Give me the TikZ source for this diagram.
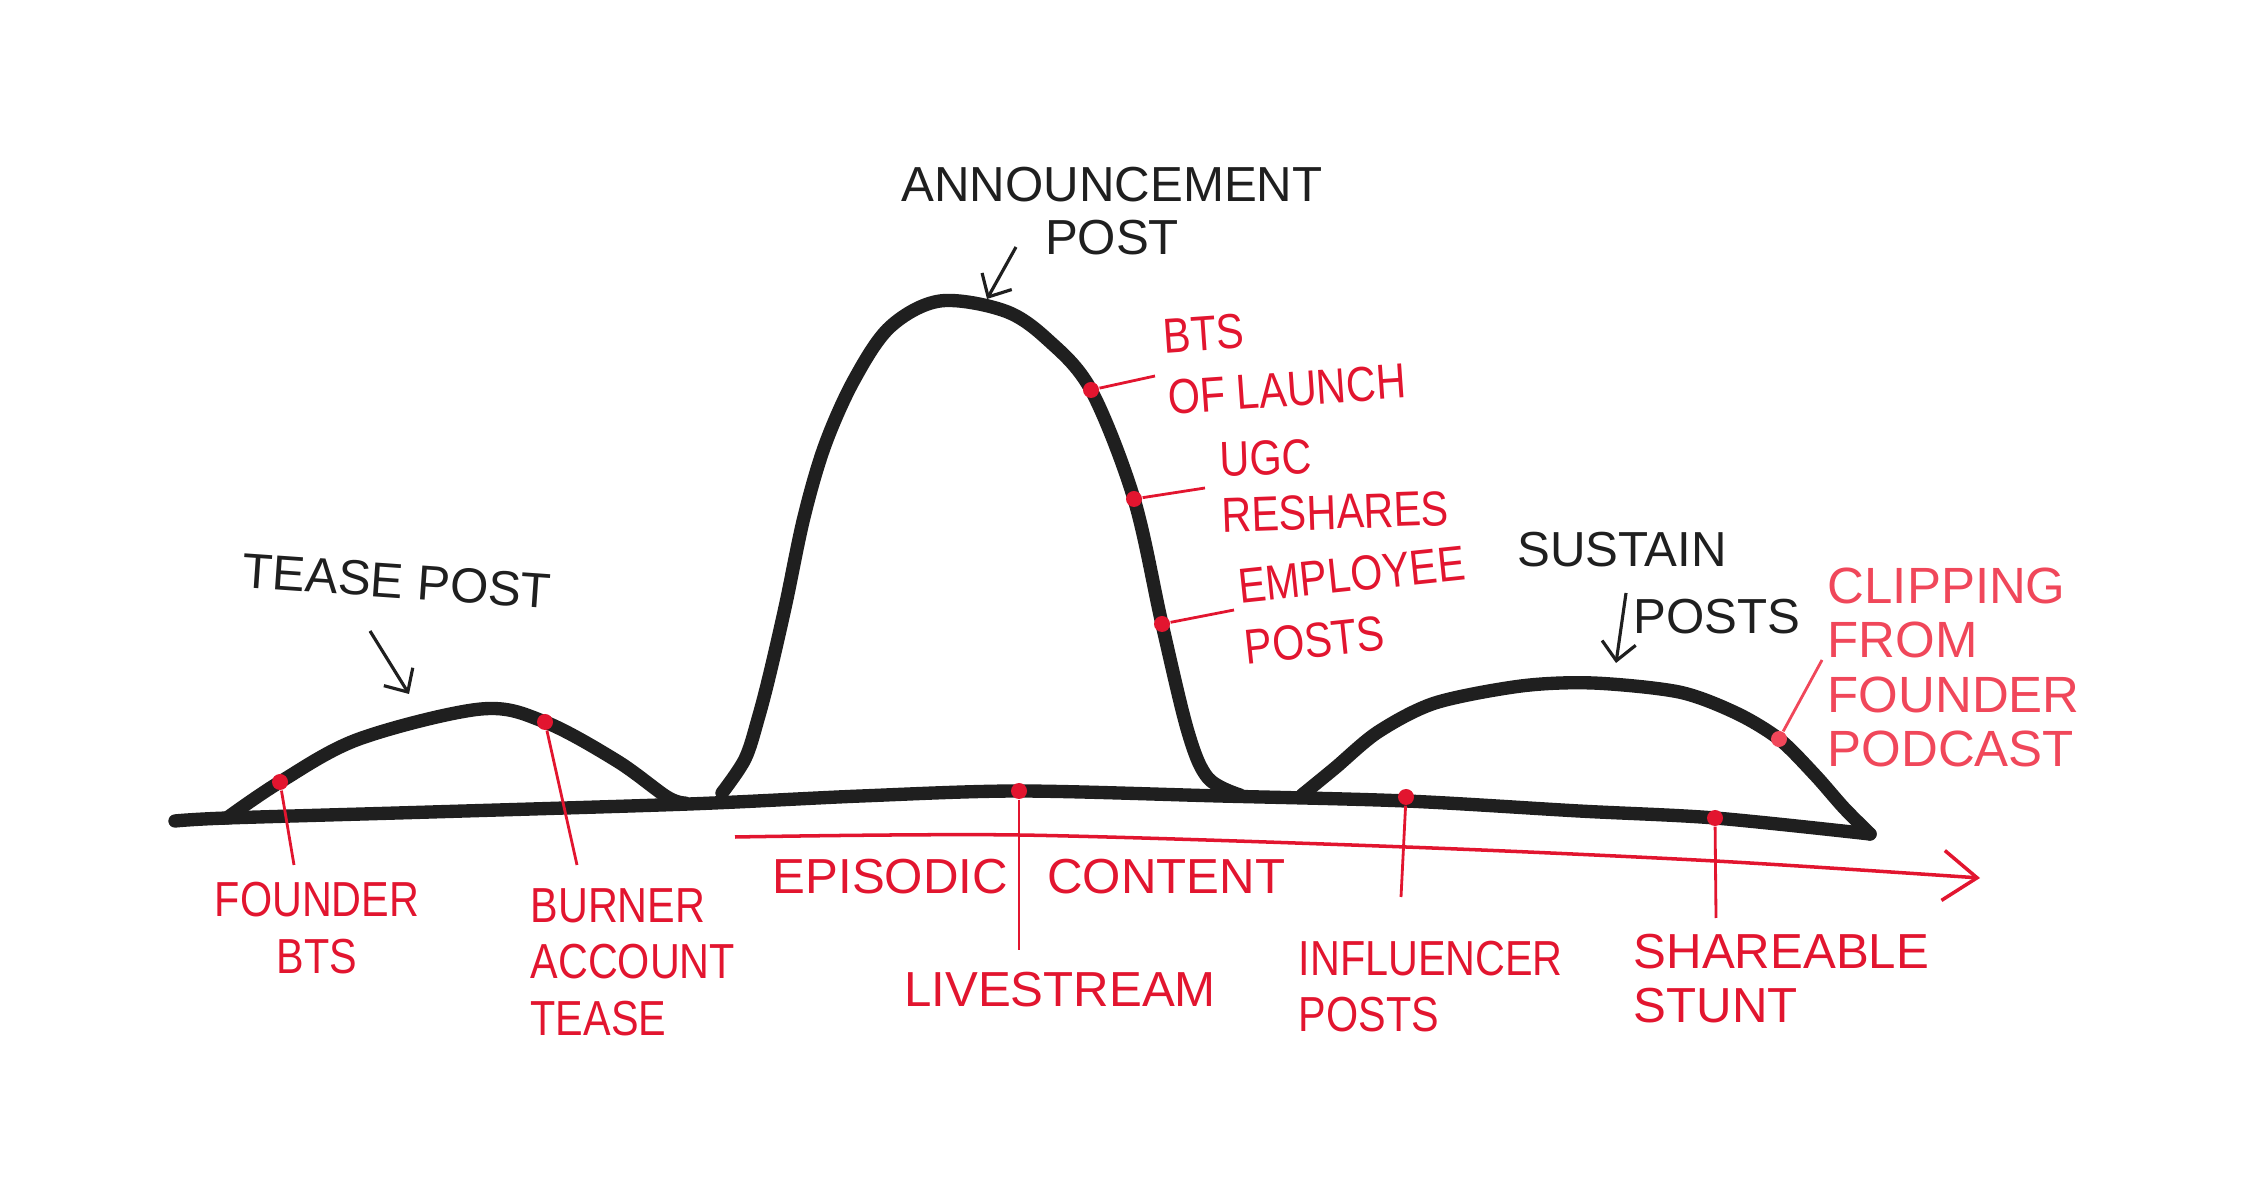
\documentclass[tikz,border=0pt]{standalone}
\usepackage{fontspec}
\setmainfont{Liberation Sans}
\newfontfamily\narrowhand[FakeStretch=0.84]{Liberation Sans}
\usetikzlibrary{arrows.meta}
\definecolor{ink}{HTML}{1F1F1F}
\definecolor{marker}{HTML}{E2152F}
\definecolor{pinkmarker}{HTML}{F0475A}
\tikzset{
  curve/.style={draw=ink,line width=3.8pt,line cap=round,line join=round},
  pointer/.style={draw=ink,line width=0.9pt,-{Straight Barb[length=1.8mm,width=3.4mm]}},
  inktext/.style={text=ink,font=\fontsize{14}{15}\selectfont,inner sep=0pt,align=center},
  redtext/.style={text=marker,font=\narrowhand\fontsize{14}{16}\selectfont,inner sep=0pt,align=left},
  redslant/.style={redtext,font=\narrowhand\fontsize{14}{17.5}\selectfont},
  redwide/.style={redtext,font=\fontsize{14}{15.5}\selectfont},
  leader/.style={draw=marker,line width=0.8pt},
  reddot/.style={circle,fill=marker,inner sep=0pt,minimum size=1.6mm},
}
\begin{document}
\begin{tikzpicture}
\useasboundingbox (0,0) rectangle (22.5,11.81);
% base line and the three humps
\draw[curve] plot[smooth,tension=0.5] coordinates {(1.75,3.60) (2.27,3.63) (4.31,3.69) (6.89,3.77) (8.61,3.85) (10.19,3.90) (12.20,3.85) (14.06,3.80) (15.79,3.70) (17.15,3.63) (18.70,3.47)};
\draw[curve] plot[smooth,tension=0.55] coordinates {(2.27,3.63) (2.80,3.99) (3.59,4.42) (4.81,4.72) (5.45,4.59) (6.17,4.20) (6.67,3.84) (6.85,3.78)};
\draw[curve] plot[smooth,tension=0.55] coordinates {(7.22,3.88) (7.45,4.22) (7.58,4.62) (7.70,5.08) (7.86,5.78) (8.04,6.64) (8.25,7.36) (8.54,8.01) (8.90,8.54) (9.40,8.80) (10.05,8.70) (10.48,8.41) (10.91,7.91) (11.34,6.82) (11.62,5.57) (11.88,4.49) (12.08,4.03) (12.40,3.86)};
\draw[curve] plot[smooth,tension=0.5] coordinates {(13.02,3.86) (13.35,4.13) (13.78,4.49) (14.35,4.78) (15.21,4.95) (15.93,4.98) (16.79,4.89) (17.36,4.68) (17.79,4.42) (18.15,4.06) (18.44,3.73) (18.70,3.47)};
% time axis
\draw[draw=marker,line width=1pt,-{Straight Barb[length=3.4mm,width=5mm]}] plot[smooth,tension=0.5] coordinates {(7.35,3.44) (10.19,3.46) (14.06,3.34) (17.15,3.20) (19.80,3.03)};
\node[redwide] (episodic) at (10.29,3.04) {EPISODIC\hspace{0.8em}CONTENT};

% black labels
\node[inktext] (announce) at (11.12,9.70) {ANNOUNCEMENT\\POST};
\coordinate (announcetail) at (10.16,9.34);
\coordinate (announcetip) at (9.87,8.82);
\draw[pointer] (announcetail) -- (announcetip);
\node[inktext,rotate=-4] (tease) at (3.97,6.00) {TEASE POST};
\coordinate (teasetail) at (3.70,5.50);
\coordinate (teasetip) at (4.09,4.87);
\draw[pointer] (teasetail) -- (teasetip);
\node[inktext] (sustain) at (16.22,6.31) {SUSTAIN};
\node[inktext] (sustainposts) at (17.17,5.64) {POSTS};
\coordinate (sustaintail) at (16.26,5.88);
\coordinate (sustaintip) at (16.16,5.18);
\draw[pointer] (sustaintail) -- (sustaintip);

% red points on the curve
\node[reddot] (dfounder) at (2.80,3.99) {};
\node[reddot] (dburner) at (5.45,4.59) {};
\node[reddot] (dlaunch) at (10.91,7.91) {};
\node[reddot] (dugc) at (11.34,6.82) {};
\node[reddot] (demployee) at (11.62,5.57) {};
\node[reddot] (dlive) at (10.19,3.90) {};
\node[reddot] (dinfluencer) at (14.06,3.84) {};
\node[reddot] (dstunt) at (17.15,3.63) {};
\node[reddot,fill=pinkmarker] (dclip) at (17.79,4.42) {};

% red labels
\node[redtext,align=center] (founder) at (3.17,2.53) {FOUNDER\\BTS};
\node[redtext,anchor=north west] (burner) at (5.30,2.93) {BURNER\\ACCOUNT\\TEASE};
\node[redwide] (live) at (10.60,1.91) {LIVESTREAM};
\node[redtext,anchor=north west] (influencer) at (12.98,2.41) {INFLUENCER\\POSTS};
\node[redwide,anchor=north west] (stunt) at (16.33,2.48) {SHAREABLE\\STUNT};
\node[redslant,anchor=west,rotate=4] (launch) at (11.65,8.14) {BTS\\OF LAUNCH};
\node[redtext,anchor=west,rotate=2] (ugc) at (12.20,6.93) {UGC\\RESHARES};
\node[redslant,anchor=west,rotate=6] (employee) at (12.41,5.64) {EMPLOYEE\\POSTS};
\node[redwide,text=pinkmarker,anchor=north west,font=\fontsize{14.5}{15.5}\selectfont] (clip) at (18.27,6.14) {CLIPPING\\FROM\\FOUNDER\\PODCAST};

% leaders
\coordinate (efounder) at (2.94,3.16);
\coordinate (eburner) at (5.77,3.16);
\coordinate (elive) at (10.19,2.31);
\coordinate (einfluencer) at (14.01,2.84);
\coordinate (estunt) at (17.16,2.63);
\coordinate (elaunch) at (11.55,8.05);
\coordinate (eugc) at (12.05,6.93);
\coordinate (eemployee) at (12.34,5.71);
\coordinate (eclip) at (18.22,5.21);
\draw[leader] (dfounder) -- (efounder);
\draw[leader] (dburner) -- (eburner);
\draw[leader] (dlive) -- (elive);
\draw[leader] (dinfluencer) -- (einfluencer);
\draw[leader] (dstunt) -- (estunt);
\draw[leader] (dlaunch) -- (elaunch);
\draw[leader] (dugc) -- (eugc);
\draw[leader] (demployee) -- (eemployee);
\draw[leader,draw=pinkmarker] (dclip) -- (eclip);
\end{tikzpicture}
\end{document}
